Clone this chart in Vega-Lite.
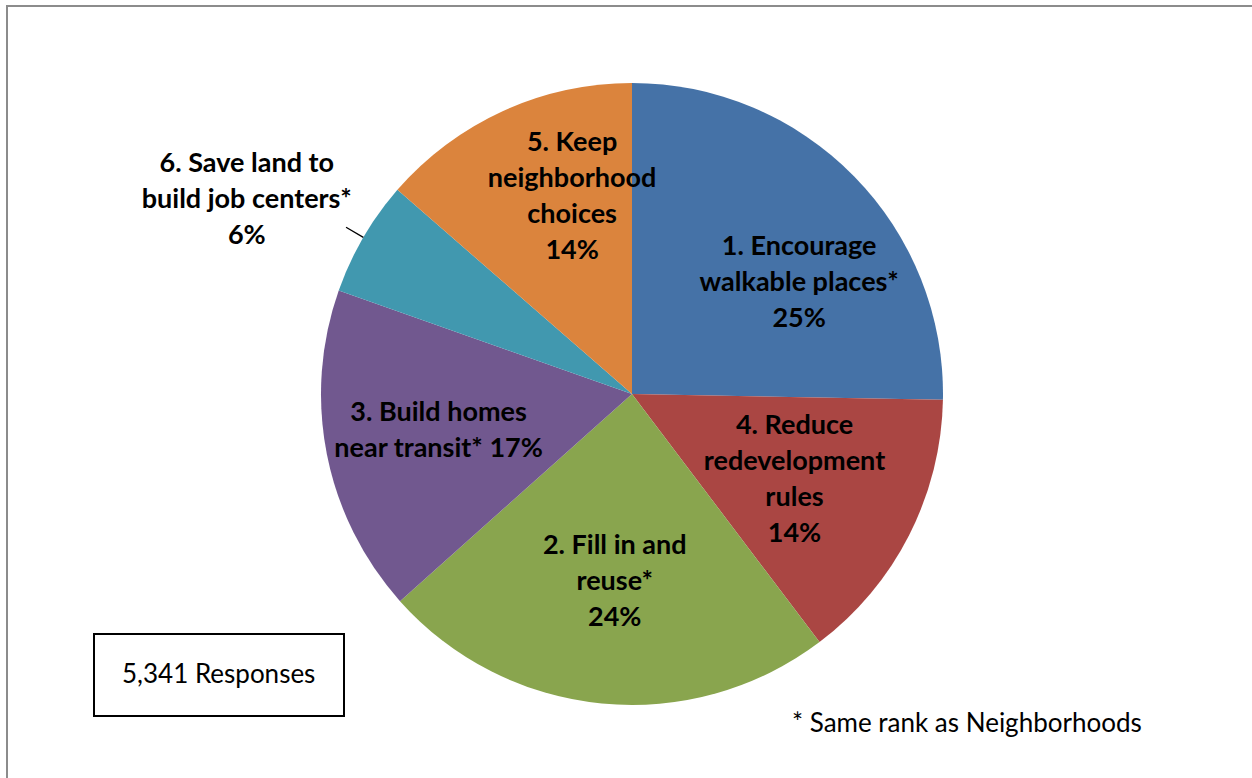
{
  "$schema": "https://vega.github.io/schema/vega-lite/v6.json",
  "autosize": {"type": "none"},
  "padding": {"left": 7, "top": 6, "right": 0, "bottom": 0},
  "width": 1250,
  "height": 776,
  "background": "white",
  "view": {"stroke": "#8c8c8c", "strokeWidth": 2, "fill": "white"},
  "config": {"view": {"stroke": "#8c8c8c", "strokeWidth": 2}, "legend": {"strokeWidth": 2}},
  "data": {
    "values": [
      {"seq": 1, "cause": "Encourage walkable places", "share": 25.3, "label": "1. Encourage\nwalkable places*\n25%"},
      {"seq": 2, "cause": "Reduce redevelopment rules", "share": 14.4, "label": "4. Reduce\nredevelopment\nrules\n14%"},
      {"seq": 3, "cause": "Fill in and reuse", "share": 23.7, "label": "2. Fill in and\nreuse*\n24%"},
      {"seq": 4, "cause": "Build homes near transit", "share": 17.0, "label": "3. Build homes\nnear transit* 17%"},
      {"seq": 5, "cause": "Save land to build job centers", "share": 6.0, "label": "6. Save land to\nbuild job centers*\n6%"},
      {"seq": 6, "cause": "Keep neighborhood choices", "share": 13.6, "label": "5. Keep\nneighborhood\nchoices\n14%"}
    ]
  },
  "layer": [
    {
      "mark": {"type": "arc", "radius": 311},
      "encoding": {
        "theta": {"field": "share", "type": "quantitative", "stack": true},
        "order": {"field": "seq", "type": "quantitative"},
        "color": {
          "field": "seq",
          "type": "nominal",
          "scale": {"domain": [1, 2, 3, 4, 5, 6], "range": ["#4572A7", "#AA4643", "#89A54E", "#71588F", "#4198AF", "#DB843D"]},
          "legend": null
        },
        "opacity": {
          "datum": 1,
          "type": "quantitative",
          "scale": {"domain": [0, 1], "range": [1, 1]},
          "legend": {
            "title": "5,341 Responses",
            "values": [],
            "orient": "none",
            "legendX": 87,
            "legendY": 628,
            "strokeColor": "black",
            "padding": 28,
            "titleLimit": 500,
            "titleFont": "Lato",
            "titleFontSize": 26,
            "titleFontWeight": "normal",
            "titleColor": "black"
          }
        },
        "strokeWidth": {
          "datum": 0,
          "type": "quantitative",
          "scale": {"domain": [0, 5], "range": [0, 0]},
          "legend": {
            "title": "* Same rank as Neighborhoods",
            "values": [],
            "orient": "none",
            "legendX": 785,
            "legendY": 705,
            "strokeColor": "transparent",
            "padding": 0,
            "titleLimit": 600,
            "titleFont": "Lato",
            "titleFontSize": 26,
            "titleFontWeight": "normal",
            "titleColor": "black"
          }
        }
      }
    },
    {
      "mark": {"type": "arc", "radius": 331, "radius2": 311, "padAngle": 3, "filled": false, "stroke": "black", "strokeWidth": 1.3},
      "encoding": {
        "theta": {"field": "share", "type": "quantitative", "stack": true},
        "order": {"field": "seq", "type": "quantitative"},
        "strokeOpacity": {"condition": {"test": "datum.seq == 5", "value": 1}, "value": 0}
      }
    },
    {
      "mark": {"type": "text", "radius": 188, "dx": 33, "dy": -15, "font": "Lato", "fontSize": 27, "fontWeight": "bold", "lineBreak": "\n", "lineHeight": 36, "align": "center", "baseline": "middle", "color": "black"},
      "encoding": {
        "theta": {"field": "share", "type": "quantitative", "stack": true},
        "order": {"field": "seq", "type": "quantitative"},
        "text": {"field": "label"},
        "opacity": {"condition": {"test": "datum.seq == 1", "value": 1}, "value": 0}
      }
    },
    {
      "mark": {"type": "text", "radius": 188, "dx": -5, "dy": -53, "font": "Lato", "fontSize": 27, "fontWeight": "bold", "lineBreak": "\n", "lineHeight": 36, "align": "center", "baseline": "middle", "color": "black"},
      "encoding": {
        "theta": {"field": "share", "type": "quantitative", "stack": true},
        "order": {"field": "seq", "type": "quantitative"},
        "text": {"field": "label"},
        "opacity": {"condition": {"test": "datum.seq == 2", "value": 1}, "value": 0}
      }
    },
    {
      "mark": {"type": "text", "radius": 188, "dx": 1, "dy": -35, "font": "Lato", "fontSize": 27, "fontWeight": "bold", "lineBreak": "\n", "lineHeight": 36, "align": "center", "baseline": "middle", "color": "black"},
      "encoding": {
        "theta": {"field": "share", "type": "quantitative", "stack": true},
        "order": {"field": "seq", "type": "quantitative"},
        "text": {"field": "label"},
        "opacity": {"condition": {"test": "datum.seq == 3", "value": 1}, "value": 0}
      }
    },
    {
      "mark": {"type": "text", "radius": 188, "dx": -9, "dy": -17, "font": "Lato", "fontSize": 27, "fontWeight": "bold", "lineBreak": "\n", "lineHeight": 36, "align": "center", "baseline": "middle", "color": "black"},
      "encoding": {
        "theta": {"field": "share", "type": "quantitative", "stack": true},
        "order": {"field": "seq", "type": "quantitative"},
        "text": {"field": "label"},
        "opacity": {"condition": {"test": "datum.seq == 4", "value": 1}, "value": 0}
      }
    },
    {
      "mark": {"type": "text", "radius": 432, "dx": -12, "dy": -12, "font": "Lato", "fontSize": 27, "fontWeight": "bold", "lineBreak": "\n", "lineHeight": 36, "align": "center", "baseline": "middle", "color": "black"},
      "encoding": {
        "theta": {"field": "share", "type": "quantitative", "stack": true},
        "order": {"field": "seq", "type": "quantitative"},
        "text": {"field": "label"},
        "opacity": {"condition": {"test": "datum.seq == 5", "value": 1}, "value": 0}
      }
    },
    {
      "mark": {"type": "text", "radius": 188, "dx": 18, "dy": -80, "font": "Lato", "fontSize": 27, "fontWeight": "bold", "lineBreak": "\n", "lineHeight": 36, "align": "center", "baseline": "middle", "color": "black"},
      "encoding": {
        "theta": {"field": "share", "type": "quantitative", "stack": true},
        "order": {"field": "seq", "type": "quantitative"},
        "text": {"field": "label"},
        "opacity": {"condition": {"test": "datum.seq == 6", "value": 1}, "value": 0}
      }
    }
  ]
}
